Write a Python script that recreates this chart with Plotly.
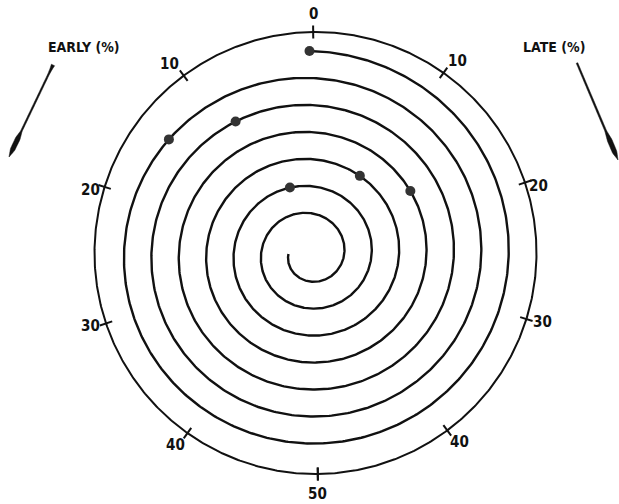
import numpy as np
import plotly.graph_objects as go

# ---- dial scale (percent, measured both ways from the top) ----
dial_values = [0, 10, 20, 30, 40, 50]
early_label = "EARLY (%)"
late_label = "LATE (%)"

# ---- spiral markers: cycle number and its early(-)/late(+) offset in % ----
marker_cycle = [0, 1, 2, 3, 4, 5]
marker_offset_pct = [0, -14, -8, 16, 9, -4.5]

# ---- geometry (pixel-like units) ----
W, H = 619, 504
dial_cx, dial_cy, dial_r, dial_rot = 315.5, 253.0, 221.0, -0.6
sp_cx, sp_cy = 309.5, 254.0
sp_r0, sp_step, sp_turns, sp_xstretch = 203.0, 27.0, 6.75, 1.015

INK = "#111111"
FONT = "DejaVu Sans Condensed, Liberation Sans Narrow, Arial Narrow, sans-serif"


def dial_xy(pct, r):
    ang = np.deg2rad(np.asarray(pct, dtype=float) / 50.0 * 180.0 + dial_rot)
    return dial_cx + r * np.sin(ang), dial_cy - r * np.cos(ang)


def spiral_xy(t):
    t = np.asarray(t, dtype=float)
    ang = 2 * np.pi * t
    r = sp_r0 - sp_step * t
    return sp_cx + sp_xstretch * r * np.sin(ang), sp_cy - r * np.cos(ang)


fig = go.Figure()

# outer dial circle
phi = np.linspace(0, 2 * np.pi, 721)
fig.add_trace(go.Scatter(
    x=dial_cx + dial_r * np.sin(phi), y=dial_cy - dial_r * np.cos(phi),
    mode="lines", line=dict(color=INK, width=2), hoverinfo="skip"))

# tick marks across the circle, early side negative, late side positive
tick_pcts = sorted(set(dial_values) | {-v for v in dial_values})
tx, ty = [], []
for p in tick_pcts:
    x0, y0 = dial_xy(p, dial_r - 6.5)
    x1, y1 = dial_xy(p, dial_r + 6.5)
    tx += [x0, x1, None]
    ty += [y0, y1, None]
fig.add_trace(go.Scatter(x=tx, y=ty, mode="lines",
                         line=dict(color=INK, width=2), hoverinfo="skip"))

# spiral
t = np.linspace(0, sp_turns, 3000)
sx, sy = spiral_xy(t)
fig.add_trace(go.Scatter(x=sx, y=sy, mode="lines",
                         line=dict(color=INK, width=2.4), hoverinfo="skip"))

# markers on the spiral
mt = np.array(marker_cycle) + np.array(marker_offset_pct) / 100.0
mx, my = spiral_xy(mt)
fig.add_trace(go.Scatter(x=mx, y=my, mode="markers",
                         marker=dict(size=10, color="#333333",
                                     line=dict(width=0)), hoverinfo="skip"))

# dial labels, set beside their tick marks
label_dx = {0: 0, 10: 14, 20: 14, 30: 16, 40: 12, 50: 0}
label_dy = {0: -18, 10: -12, 20: 3, 30: 3, 40: 12, 50: 20}
annotations = []
for p in tick_pcts:
    if p == -50:
        continue
    cx_, cy_ = dial_xy(p, dial_r)
    v = abs(p)
    dx = label_dx[v] if p >= 0 else -label_dx[v]
    annotations.append(dict(x=float(cx_ + dx), y=float(cy_ + label_dy[v]),
                            text=str(v), showarrow=False, xref="x", yref="y",
                            font=dict(family=FONT, size=15, color=INK,
                                      weight="bold")))

annotations.append(dict(x=84, y=47, text=early_label, showarrow=False,
                        xref="x", yref="y",
                        font=dict(family=FONT, size=14, color=INK,
                                  weight="bold")))
annotations.append(dict(x=554, y=47, text=late_label, showarrow=False,
                        xref="x", yref="y",
                        font=dict(family=FONT, size=14, color=INK,
                                  weight="bold")))


def pen_arrow(p0, p1, profile):
    """Closed SVG path for a tapered pen-drawn arrow from p0 to p1."""
    p0, p1 = np.array(p0, float), np.array(p1, float)
    d = p1 - p0
    L = np.hypot(*d)
    d /= L
    n = np.array([d[1], -d[0]])
    s = np.linspace(0, 1, 60)
    w = np.interp(s, [q[0] for q in profile], [q[1] for q in profile])
    left = [p0 + d * L * si + n * wi for si, wi in zip(s, w)]
    right = [p0 + d * L * si - n * wi for si, wi in zip(s, w)][::-1]
    pts = left + right
    return "M " + " L ".join(f"{x:.2f},{y:.2f}" for x, y in pts) + " Z"


early_path = pen_arrow((53, 65), (9, 157),
                       [(0, 1.8), (0.04, 1.2), (0.1, 0.8), (0.72, 0.8),
                        (0.8, 2.4), (0.92, 2.3), (1.0, 0.0)])
late_path = pen_arrow((577, 63), (618, 160),
                      [(0, 0.8), (0.7, 0.9), (0.8, 2.4), (0.92, 2.3),
                       (1.0, 0.0)])

shapes = [dict(type="path", path=early_path, xref="x", yref="y",
               fillcolor=INK, line=dict(color=INK, width=0.5)),
          dict(type="path", path=late_path, xref="x", yref="y",
               fillcolor=INK, line=dict(color=INK, width=0.5))]

fig.update_layout(
    width=W, height=H,
    margin=dict(l=0, r=0, t=0, b=0),
    paper_bgcolor="white", plot_bgcolor="white",
    showlegend=False,
    xaxis=dict(range=[0, W], visible=False, fixedrange=True),
    yaxis=dict(range=[H, 0], visible=False, fixedrange=True),
    annotations=annotations,
    shapes=shapes,
)

fig.write_html("out.html")
